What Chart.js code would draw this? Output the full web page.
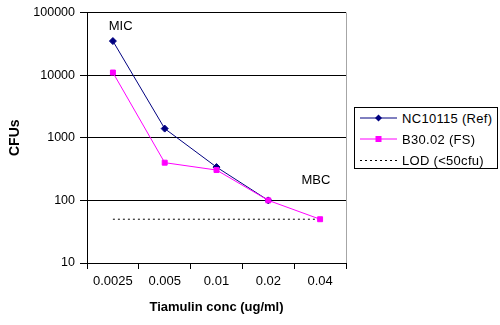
<!DOCTYPE html>
<html>
<head>
<meta charset="utf-8">
<script src="https://cdn.jsdelivr.net/npm/chart.js@4/dist/chart.umd.min.js"></script>
<style>
  html, body { margin: 0; padding: 0; background: #fff; }
  #wrap { position: relative; width: 500px; height: 325px; }
  #legenda {
    position: absolute; left: 354px; top: 107px; width: 142px; height: 60px;
    border: 1px solid #000; background: #fff;
    font-family: "Liberation Sans", Arial, sans-serif; font-size: 13px; letter-spacing: 0.3px;
  }
  .linha { position: absolute; left: 5px; height: 20px; display: flex; align-items: center; }
  .linha svg { width: 37px; height: 20px; margin-right: 5px; }
</style>
</head>
<body>
<div id="wrap">
  <canvas id="grafico" width="500" height="325"></canvas>
  <div id="legenda"></div>
</div>
<script>
const concentracoes = ['0.0025', '0.005', '0.01', '0.02', '0.04'];
const cfuRef = [35000, 1400, 340, 100, null];
const cfuFS = [11000, 400, 305, 100, 50];
const limiteLOD = [50, 50, 50, 50, 50];
const ticksY = [10, 100, 1000, 10000, 100000];

const nomesSeries = ['NC10115 (Ref)', 'B30.02 (FS)', 'LOD (<50cfu)'];
const notasTexto = ['MIC', 'MBC'];
const notasX = [0.15, 3.92];
const notasY = [60000, 210];

const fonte = '"Liberation Sans", Arial, sans-serif';

const bordaDireita = {
  id: 'bordaDireita',
  afterDraw(chart) {
    const { ctx, chartArea } = chart;
    ctx.save();
    ctx.strokeStyle = '#a6a6a6';
    ctx.lineWidth = 1;
    ctx.beginPath();
    ctx.moveTo(chartArea.right + 0.5, chartArea.top);
    ctx.lineTo(chartArea.right + 0.5, chartArea.bottom);
    ctx.stroke();
    ctx.restore();
  }
};

const notas = {
  id: 'notas',
  afterDatasetsDraw(chart) {
    const { ctx, scales } = chart;
    ctx.save();
    ctx.font = '13px ' + fonte;
    ctx.fillStyle = '#000';
    ctx.textAlign = 'center';
    ctx.textBaseline = 'middle';
    notasTexto.forEach((t, i) => {
      ctx.fillText(t, scales.x.getPixelForValue(notasX[i]), scales.y.getPixelForValue(notasY[i]));
    });
    ctx.restore();
  }
};

new Chart(document.getElementById('grafico'), {
  type: 'line',
  data: {
    labels: concentracoes,
    datasets: [
      {
        label: nomesSeries[0],
        data: cfuRef,
        borderColor: '#000080',
        backgroundColor: '#000080',
        borderWidth: 1,
        pointStyle: 'rectRot',
        pointRadius: 3.5,
        order: 1
      },
      {
        label: nomesSeries[1],
        data: cfuFS,
        borderColor: '#ff00ff',
        backgroundColor: '#ff00ff',
        borderWidth: 1,
        pointStyle: 'rect',
        pointRadius: 3.5,
        order: 0
      },
      {
        label: nomesSeries[2],
        data: limiteLOD,
        borderColor: '#000',
        borderWidth: 1,
        borderDash: [2, 3],
        pointRadius: 0,
        order: 2
      }
    ]
  },
  options: {
    responsive: false,
    animation: false,
    layout: { padding: { left: 0, right: 154, top: 12, bottom: 0 } },
    plugins: {
      legend: { display: false },
      tooltip: { enabled: false }
    },
    scales: {
      x: {
        offset: true,
        grid: { offset: true, drawOnChartArea: false, color: '#000', tickLength: 6 },
        border: { color: '#000' },
        ticks: { color: '#000', font: { family: fonte, size: 13 }, padding: 5 },
        title: {
          display: true, text: 'Tiamulin conc (ug/ml)', color: '#000',
          font: { family: fonte, size: 13, weight: 'bold' }, padding: { top: 0, bottom: 10 }
        },
        afterFit: s => { s.height = 62; }
      },
      y: {
        type: 'logarithmic',
        min: 10,
        max: 100000,
        afterBuildTicks: s => { s.ticks = ticksY.map(v => ({ value: v })); },
        grid: { color: '#000', tickLength: 7 },
        border: { color: '#000' },
        ticks: { color: '#000', font: { family: fonte, size: 12.5 }, padding: 5, callback: v => String(v) },
        title: {
          display: true, text: 'CFUs', color: '#000',
          font: { family: fonte, size: 14, weight: 'bold' }, padding: { top: 7, bottom: 6 }
        },
        afterFit: s => { s.width = 87; }
      }
    }
  },
  plugins: [bordaDireita, notas]
});

// legenda em HTML
const legenda = document.getElementById('legenda');
const amostras = [
  '<line x1="0" y1="10" x2="37" y2="10" stroke="#000080" stroke-width="1"/><polygon points="18.5,6.5 22,10 18.5,13.5 15,10" fill="#000080"/>',
  '<line x1="0" y1="10" x2="37" y2="10" stroke="#ff00ff" stroke-width="1"/><rect x="15.5" y="7" width="6" height="6" fill="#ff00ff"/>',
  '<line x1="0" y1="10.5" x2="37" y2="10.5" stroke="#000" stroke-width="1" stroke-dasharray="2,3"/>'
];
nomesSeries.forEach((nome, i) => {
  const linha = document.createElement('div');
  linha.className = 'linha';
  linha.style.top = (i * 21) + 'px';
  linha.innerHTML = `<svg viewBox="0 0 37 20">${amostras[i]}</svg><span></span>`;
  linha.querySelector('span').textContent = nome;
  legenda.appendChild(linha);
});
</script>
</body>
</html>
